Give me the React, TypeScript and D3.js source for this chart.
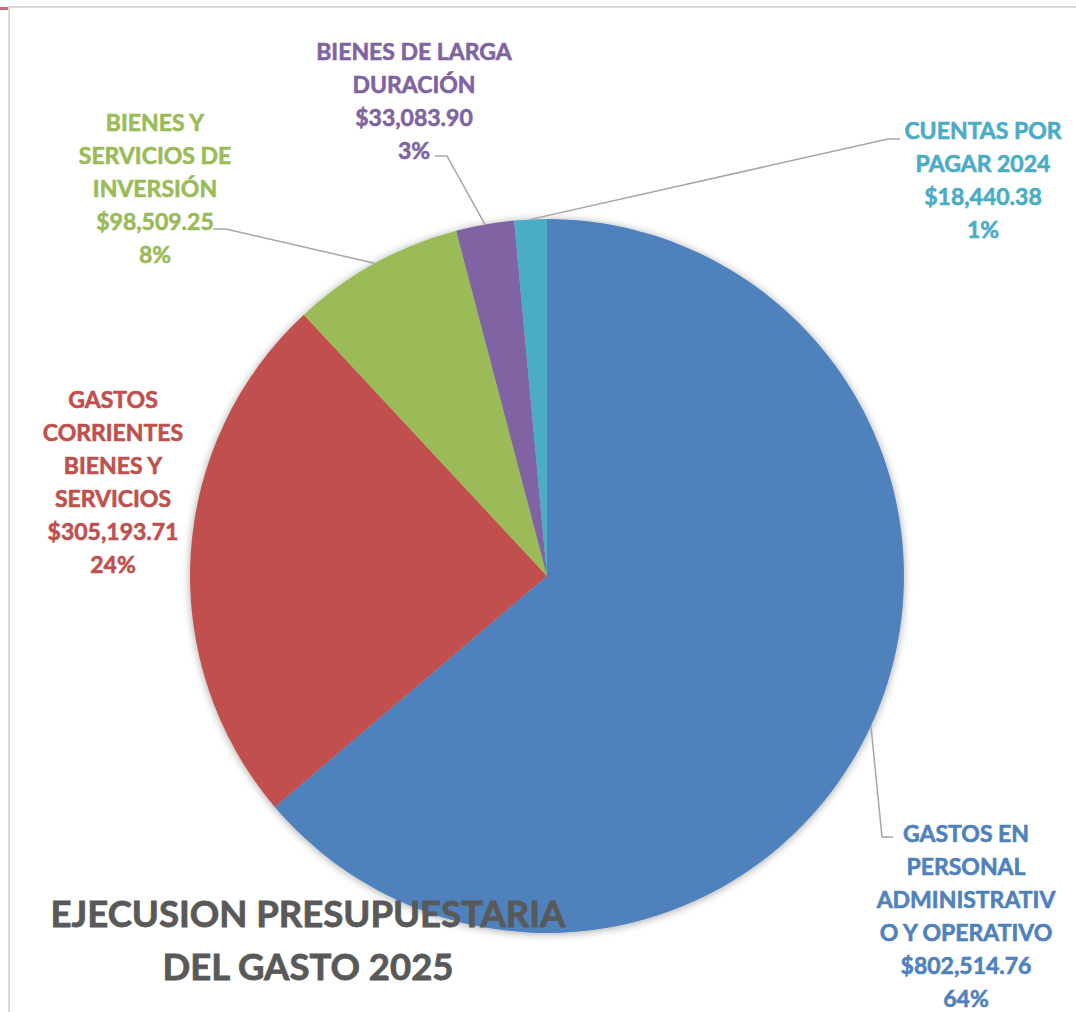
import React from "react";
import * as d3 from "d3";

const categories = [
  "GASTOS EN PERSONAL ADMINISTRATIVO Y OPERATIVO",
  "GASTOS CORRIENTES BIENES Y SERVICIOS",
  "BIENES Y SERVICIOS DE INVERSIÓN",
  "BIENES DE LARGA DURACIÓN",
  "CUENTAS POR PAGAR 2024",
];
const values = [802514.76, 305193.71, 98509.25, 33083.9, 18440.38];
const labelLines = [
  ["GASTOS EN", "PERSONAL", "ADMINISTRATIV", "O Y OPERATIVO"],
  ["GASTOS", "CORRIENTES", "BIENES Y", "SERVICIOS"],
  ["BIENES Y", "SERVICIOS DE", "INVERSIÓN"],
  ["BIENES DE LARGA", "DURACIÓN"],
  ["CUENTAS POR", "PAGAR 2024"],
];
const colors = ["#4F81BD", "#C0504D", "#9BBB59", "#8064A2", "#4BACC6"];
const titleLines = ["EJECUSION PRESUPUESTARIA", "DEL GASTO 2025"];

// layout of labels (positions only)
const labelLayout = [
  { x: 966, y: 842, leader: [[882, 837], [893, 837]] },
  { x: 113, y: 408, leader: null },
  { x: 155, y: 131, leader: [[226, 229], [213, 229]] },
  { x: 414, y: 60, leader: [[447, 156], [435, 156]] },
  { x: 983, y: 139, leader: [[888, 139], [900, 139]] },
];

const W = 1076;
const H = 1012;
const cx = 547;
const cy = 576;
const R = 357;
const FONT = "Lato, 'Open Sans', sans-serif";
const LH = 33;

export default function App() {
  const total = d3.sum(values);
  const pie = d3.pie<number>().sort(null).value((d) => d)(values);
  const arc = d3.arc<d3.PieArcDatum<number>>().innerRadius(0).outerRadius(R);
  const fmt = (v: number) => "$" + d3.format(",.2f")(v);
  const pct = (v: number) => d3.format(".0%")(v / total);

  return (
    <svg
      width={W}
      height={H}
      style={{ position: "absolute", left: 0, top: 0, background: "#fff" }}
      fontFamily={FONT}
    >
      <defs>
        <filter id="sh" x="-10%" y="-10%" width="120%" height="120%">
          <feDropShadow dx="0" dy="1" stdDeviation="4" floodColor="#000" floodOpacity="0.35" />
        </filter>
      </defs>
      <rect x={0} y={0} width={W} height={H} fill="#fff" />
      <line x1={8} y1={7} x2={W} y2={7} stroke="#dcd8d8" strokeWidth={2} />
      <line x1={9} y1={7} x2={9} y2={H} stroke="#d9d9d9" strokeWidth={2} />
      <rect x={0} y={7} width={8} height={3} fill="#d06a78" />

      <g transform={`translate(${cx},${cy})`} filter="url(#sh)">
        {pie.map((d, i) => (
          <path key={i} d={arc(d) || ""} fill={colors[i]} />
        ))}
      </g>

      {pie.map((d, i) => {
        const lay = labelLayout[i];
        if (!lay.leader) return null;
        const mid = (d.startAngle + d.endAngle) / 2;
        const px = cx + R * Math.sin(mid);
        const py = cy - R * Math.cos(mid);
        const pts = [[px, py], ...lay.leader];
        return (
          <polyline
            key={"l" + i}
            points={pts.map((p) => p.join(",")).join(" ")}
            fill="none"
            stroke="#a6a6a6"
            strokeWidth={1.5}
          />
        );
      })}

      {pie.map((d, i) => {
        const lay = labelLayout[i];
        const lines = [...labelLines[i], fmt(values[i]), pct(values[i])];
        return (
          <text
            key={"t" + i}
            x={lay.x}
            y={lay.y}
            textAnchor="middle"
            fill={colors[i]}
            stroke={colors[i]}
            strokeWidth={0.6}
            fontWeight={700}
            fontSize={23}
          >
            {lines.map((s, j) => (
              <tspan key={j} x={lay.x} y={lay.y + j * LH}>
                {s}
              </tspan>
            ))}
          </text>
        );
      })}

      <text
        textAnchor="middle"
        fill="#595959"
        stroke="#595959"
        strokeWidth={0.8}
        fontWeight={700}
        fontSize={36.5}
      >
        {titleLines.map((s, j) => (
          <tspan key={j} x={308} y={927 + j * 53}>
            {s}
          </tspan>
        ))}
      </text>
    </svg>
  );
}
